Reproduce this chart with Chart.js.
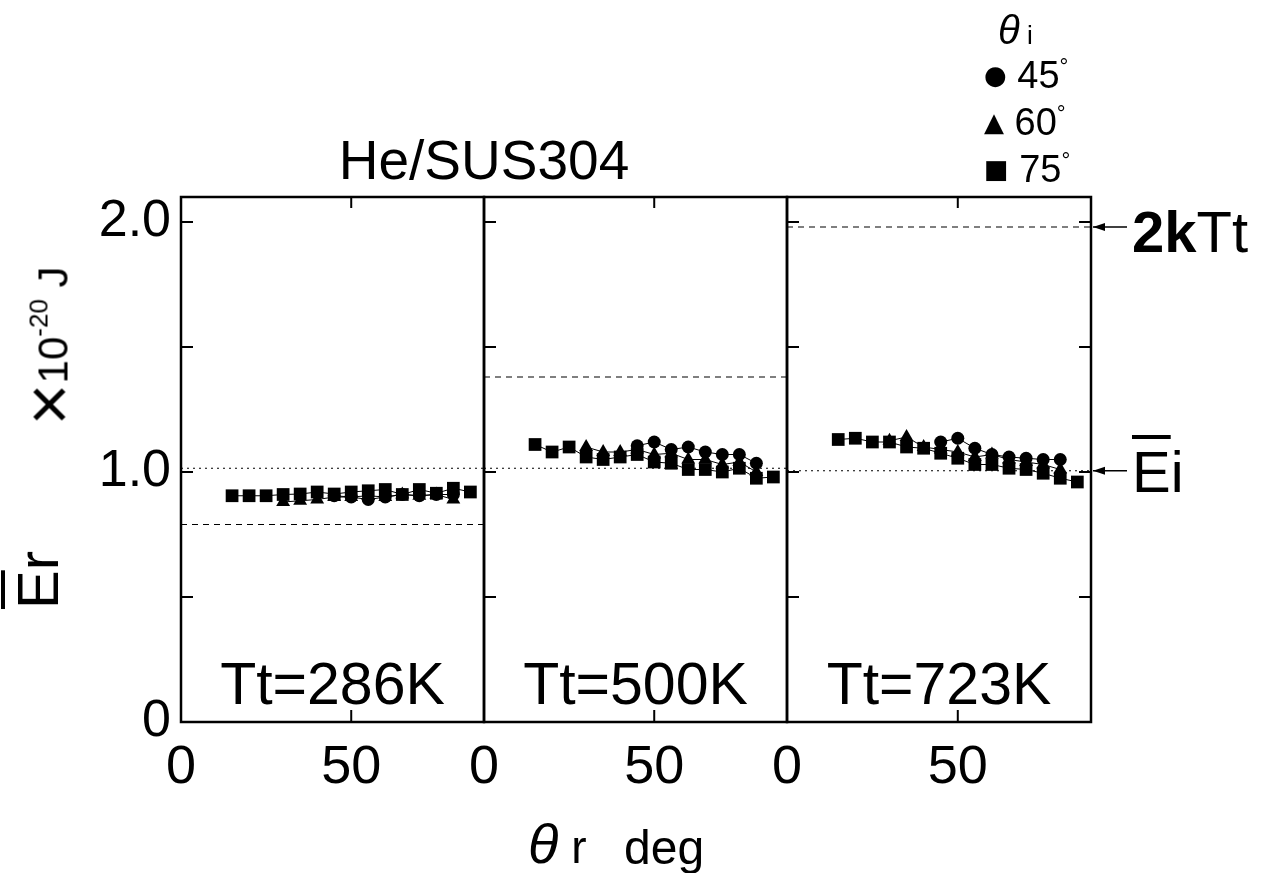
<!DOCTYPE html>
<html><head><meta charset="utf-8">
<script src="https://cdn.jsdelivr.net/npm/chart.js@4.4.1/dist/chart.umd.min.js"></script>
<style>
body{margin:0;background:#fff;width:1261px;height:873px;overflow:hidden;position:relative;font-family:"Liberation Sans",Arial,sans-serif;color:#000}
canvas{position:absolute;left:0;top:0}
.t{position:absolute;white-space:nowrap;line-height:1}
.ov{text-decoration:overline;text-decoration-thickness:4px}
</style></head><body>
<canvas id="c1" width="1261" height="873"></canvas>
<canvas id="c2" width="1261" height="873"></canvas>
<canvas id="c3" width="1261" height="873"></canvas>

<div class="t" style="left:484px;top:133px;font-size:55px;transform:translateX(-50%)">He/SUS304</div>
<div class="t" id="tt1" style="top:655px;font-size:59px;transform:translateX(-50%)"></div>
<div class="t" id="tt2" style="top:655px;font-size:59px;transform:translateX(-50%)"></div>
<div class="t" id="tt3" style="top:655px;font-size:59px;transform:translateX(-50%)"></div>

<div class="t" style="left:528px;top:816px;font-size:56px"><i>θ</i><span style="font-size:46px"> r</span></div>
<div class="t" style="left:624px;top:824px;font-size:48px">deg</div>

<div class="t" style="left:38px;top:580px;font-size:58px;transform:translate(-50%,-50%) rotate(-90deg)"><span class="ov">E</span>r</div>
<div class="t" style="left:50px;top:346px;font-size:42px;transform:translate(-50%,-50%) rotate(-90deg)"><span style="font-size:72px;line-height:0;vertical-align:-6px">×</span>10<sup style="font-size:26px;vertical-align:20px">-20</sup>&nbsp;J</div>

<div class="t" style="left:998px;top:10px;font-size:40px"><i>θ</i><span style="font-size:26px"> i</span></div>
<div class="t" style="left:984px;top:56px;font-size:38px"><span style="font-family:'DejaVu Sans';font-size:26px;vertical-align:4px">●</span> 45<sup style="font-size:22px;vertical-align:14px">°</sup></div>
<div class="t" style="left:984px;top:103px;font-size:38px"><span style="font-family:'DejaVu Sans';font-size:26px;vertical-align:4px">▲</span> 60<sup style="font-size:22px;vertical-align:14px">°</sup></div>
<div class="t" style="left:984px;top:150px;font-size:38px"><span style="font-family:'DejaVu Sans';font-size:26px;vertical-align:4px">■</span> 75<sup style="font-size:22px;vertical-align:14px">°</sup></div>

<div class="t" style="left:1132px;top:203px;font-size:58px"><b>2k</b>Tt</div>
<div class="t" style="left:1132px;top:443px;font-size:58px"><span class="ov">E</span>i</div>

<script>
// ---------- data ----------
const panelLabels = ['Tt=286K', 'Tt=500K', 'Tt=723K'];
const twoKTt = [0.79, 1.38, 1.98];          // dashed lines (2kTt), x10^-20 J
const meanEi = [1.015, 1.015, 1.005];       // dotted lines (mean incident energy)
const xTickLabels = [0, 50];
const yTickValues = [0, 0.5, 1.0, 1.5, 2.0];
const yTickLabels = ['0', '', '1.0', '', '2.0'];

const x45 = [45, 50, 55, 60, 65, 70, 75, 80];
const x60 = [30, 35, 40, 45, 50, 55, 60, 65, 70, 75, 80];
const x75 = [15, 20, 25, 30, 35, 40, 45, 50, 55, 60, 65, 70, 75, 80, 85];

// Tt = 286 K
const p1_45 = [0.905, 0.90, 0.89, 0.90, 0.91, 0.905, 0.91, 0.91];
const p1_60 = [0.88, 0.885, 0.89, 0.90, 0.90, 0.905, 0.90, 0.91, 0.905, 0.91, 0.89];
const p1_75 = [0.905, 0.905, 0.905, 0.91, 0.912, 0.92, 0.912, 0.92, 0.925, 0.93, 0.91, 0.93, 0.915, 0.935, 0.92];
// Tt = 500 K
const p2_45 = [1.105, 1.12, 1.09, 1.10, 1.08, 1.07, 1.07, 1.035];
const p2_60 = [1.10, 1.08, 1.08, 1.09, 1.07, 1.075, 1.05, 1.05, 1.03, 1.04, 1.00];
const p2_75 = [1.11, 1.08, 1.10, 1.06, 1.05, 1.06, 1.07, 1.04, 1.035, 1.01, 1.01, 1.00, 1.015, 0.975, 0.98];
// Tt = 723 K
const p3_45 = [1.12, 1.135, 1.095, 1.07, 1.06, 1.055, 1.05, 1.05];
const p3_60 = [1.125, 1.14, 1.10, 1.09, 1.08, 1.06, 1.07, 1.05, 1.04, 1.03, 1.01];
const p3_75 = [1.13, 1.135, 1.12, 1.12, 1.10, 1.095, 1.075, 1.055, 1.03, 1.03, 1.015, 1.01, 0.995, 0.975, 0.96];

const panels = [
  {s45: p1_45, s60: p1_60, s75: p1_75},
  {s45: p2_45, s60: p2_60, s75: p2_75},
  {s45: p3_45, s60: p3_60, s75: p3_75}
];

// ---------- layout ----------
const W = 1261, H = 873;
const edges = [181, 484, 787, 1091];
const plotTop = 197, plotBottom = 722;
const yAxisW = 100, xAxisH = 80;
const X_MAX = 89, Y_MAX = 2.1;

['tt1','tt2','tt3'].forEach((id, i) => {
  const el = document.getElementById(id);
  el.textContent = panelLabels[i];
  el.style.left = ((edges[i] + edges[i+1]) / 2) + 'px';
});

const pts = (xs, ys) => xs.map((x, i) => ({x, y: ys[i]}));

const framePlugin = {
  id: 'frame',
  afterDraw(chart, args, o) {
    const {ctx, chartArea: a, scales: {x, y}} = chart;
    ctx.save();
    ctx.strokeStyle = '#000';
    const line = (x1, y1, x2, y2) => { ctx.beginPath(); ctx.moveTo(x1, y1); ctx.lineTo(x2, y2); ctx.stroke(); };
    ctx.lineWidth = 2.5;
    ctx.strokeRect(a.left, a.top, a.right - a.left, a.bottom - a.top);
    ctx.lineWidth = 2;
    xTickLabels.filter(v => v > 0).forEach(v => {
      const px = x.getPixelForValue(v);
      line(px, a.bottom, px, a.bottom - 12);
      line(px, a.top, px, a.top + 11);
    });
    yTickValues.filter(v => v > 0).forEach(v => {
      const py = y.getPixelForValue(v);
      if (o.left) line(a.left, py, a.left + 12, py);
      if (o.right) line(a.right, py, a.right - 12, py);
    });
    if (o.arrows) {
      ctx.lineWidth = 1.5;
      [twoKTt[2], meanEi[2]].forEach(v => {
        const py = y.getPixelForValue(v);
        line(a.right + 2, py, a.right + 36, py);
        ctx.beginPath();
        ctx.moveTo(a.right + 2, py);
        ctx.lineTo(a.right + 14, py - 4);
        ctx.lineTo(a.right + 14, py + 4);
        ctx.closePath(); ctx.fillStyle = '#000'; ctx.fill();
      });
    }
    ctx.restore();
  }
};

function makeChart(id, i) {
  const p = panels[i];
  const ser = (label, xs, ys, style, r) => ({
    label, data: pts(xs, ys), showLine: true, borderColor: '#000', borderWidth: 1,
    backgroundColor: '#000', pointBackgroundColor: '#000', pointBorderColor: '#000',
    pointStyle: style, pointRadius: r, pointBorderWidth: 0, tension: 0
  });
  const ref = (v, dash) => ({
    label: 'ref', data: [{x: 0, y: v}, {x: X_MAX, y: v}], showLine: true,
    borderColor: '#000', borderWidth: 1.2, borderDash: dash, pointRadius: 0
  });
  return new Chart(document.getElementById(id), {
    type: 'scatter',
    data: {
      datasets: [
        ref(twoKTt[i], [6, 5]),
        ref(meanEi[i], [2, 4]),
        ser('75°', x75, p.s75, 'rect', 9),
        ser('60°', x60, p.s60, 'triangle', 8),
        ser('45°', x45, p.s45, 'circle', 6.5)
      ]
    },
    options: {
      responsive: false, animation: false, devicePixelRatio: 1,
      layout: { padding: {
        left: i === 0 ? edges[0] - yAxisW : edges[i],
        right: W - edges[i+1],
        top: plotTop,
        bottom: H - plotBottom - xAxisH
      }},
      plugins: { legend: {display: false}, tooltip: {enabled: false}, frame: {left: true, right: i === 2, arrows: i === 2} },
      scales: {
        x: {
          type: 'linear', min: 0, max: X_MAX,
          afterBuildTicks: s => { s.ticks = xTickLabels.map(v => ({value: v})); },
          afterFit: s => { s.height = xAxisH; },
          grid: {display: false, drawTicks: false}, border: {display: false},
          ticks: { autoSkip: false, maxRotation: 0, padding: 14, color: '#000',
            font: {family: '"Liberation Sans", sans-serif', size: 54} }
        },
        y: {
          type: 'linear', min: 0, max: Y_MAX, display: i === 0,
          afterBuildTicks: s => { s.ticks = yTickValues.map(v => ({value: v})); },
          afterFit: s => { s.width = i === 0 ? yAxisW : 0; },
          grid: {display: false, drawTicks: false}, border: {display: false},
          ticks: { padding: 10, color: '#000',
            callback: (v) => yTickLabels[yTickValues.indexOf(v)] ?? '',
            font: {family: '"Liberation Sans", sans-serif', size: 52} }
        }
      }
    },
    plugins: [framePlugin]
  });
}
makeChart('c1', 0);
makeChart('c2', 1);
makeChart('c3', 2);
</script>
</body></html>
